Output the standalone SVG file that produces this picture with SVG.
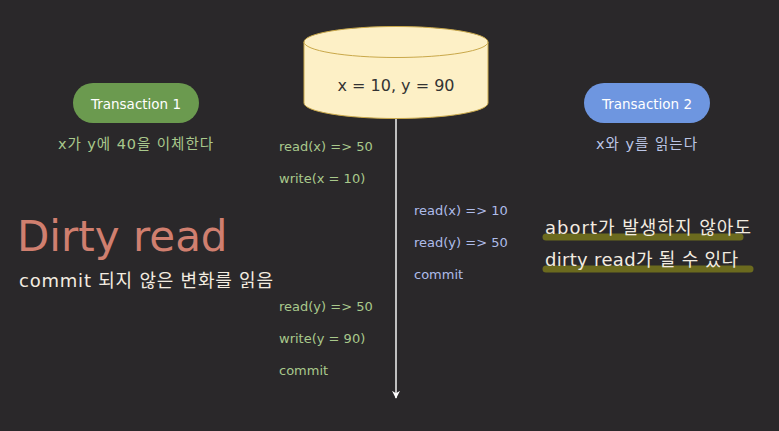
<svg xmlns="http://www.w3.org/2000/svg" width="779" height="431" viewBox="0 0 779 431">
<defs>
<style>
text{font-family:"DejaVu Sans","Noto Sans CJK KR",sans-serif}
.op1{fill:#a9c98c;font-size:13px}
.op2{fill:#aebce9;font-size:13px}
.pill{font-size:13.5px;fill:#ffffff;text-anchor:middle}
.note{fill:#f3ece0;font-size:18px}
.hl{stroke:#6b6a1e;stroke-width:7;stroke-linecap:round;fill:none}
</style>
<marker id="ah" viewBox="0 0 10 10" refX="9" refY="5" markerWidth="8" markerHeight="8" orient="auto" markerUnits="userSpaceOnUse">
<path d="M0,0 L10,5 L0,10 L3,5 Z" fill="#ffffff"/>
</marker>
</defs>
<rect width="779" height="431" fill="#2a282a"/>
<g id="connectors">
<line x1="396" y1="118" x2="396" y2="398" stroke="#f2f2f2" stroke-width="1.5" marker-end="url(#ah)"/>
</g>
<g id="db">
<path d="M304,42 L304,103 A92,15.5 0 0 0 488,103 L488,42" fill="#fdf0c6" stroke="#c9a84a" stroke-width="1"/>
<ellipse cx="396" cy="42" rx="92" ry="15.5" fill="#fdf0c6" stroke="#c9a84a" stroke-width="1"/>
<text x="396" y="91" text-anchor="middle" font-size="16" fill="#333333">x = 10, y = 90</text>
</g>
<g id="t1">
<rect x="73" y="83" width="126" height="40" rx="20" fill="#6b9a4f"/>
<text class="pill" x="136" y="108.5">Transaction 1</text>
<text x="58" y="149" font-size="14.5" fill="#a9c98c" textLength="155" lengthAdjust="spacing">x가 y에 40을 이체한다</text>
</g>
<g id="t2">
<rect x="584" y="83" width="126" height="40" rx="20" fill="#6e96e0"/>
<text class="pill" x="647" y="108.5">Transaction 2</text>
<text x="596" y="149" font-size="14.5" fill="#bcc6e6" textLength="101" lengthAdjust="spacing">x와 y를 읽는다</text>
</g>
<g id="title">
<text x="17" y="251" font-size="42" fill="#d07f6f">Dirty read</text>
<text x="19" y="287" font-size="18" fill="#f3ece0" textLength="254" lengthAdjust="spacing">commit 되지 않은 변화를 읽음</text>
</g>
<g id="ops1">
<text class="op1" x="279" y="151">read(x) =&gt; 50</text>
<text class="op1" x="279" y="183">write(x = 10)</text>
<text class="op1" x="279" y="311">read(y) =&gt; 50</text>
<text class="op1" x="279" y="343">write(y = 90)</text>
<text class="op1" x="279" y="375">commit</text>
</g>
<g id="ops2">
<text class="op2" x="414" y="215">read(x) =&gt; 10</text>
<text class="op2" x="414" y="247">read(y) =&gt; 50</text>
<text class="op2" x="414" y="279">commit</text>
</g>
<g id="notes">
<line class="hl" x1="546" y1="237" x2="740" y2="237"/>
<line class="hl" x1="546" y1="269" x2="750" y2="269"/>
<text class="note" x="545" y="234" textLength="206" lengthAdjust="spacing">abort가 발생하지 않아도</text>
<text class="note" x="545" y="266" textLength="193" lengthAdjust="spacing">dirty read가 될 수 있다</text>
</g>
</svg>
